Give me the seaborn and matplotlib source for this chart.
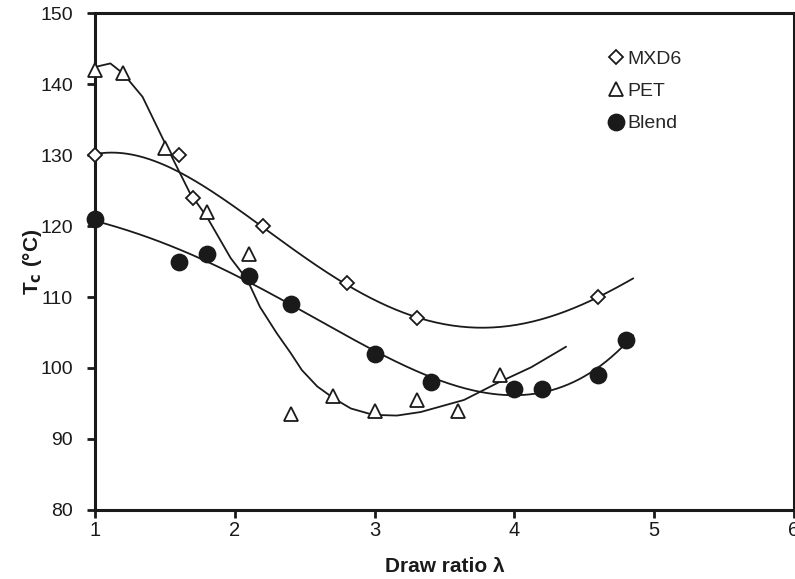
import numpy as np
import pandas as pd
import matplotlib
matplotlib.use("Agg")
import matplotlib.pyplot as plt
import seaborn as sns

# Data
mxd6_x = [1.0, 1.6, 1.7, 2.2, 2.8, 3.3, 4.6]
mxd6_y = [130, 130, 124, 120, 112, 107, 110]
pet_x = [1.0, 1.2, 1.5, 1.8, 2.1, 2.4, 2.7, 3.0, 3.3, 3.6, 3.9]
pet_y = [142, 141.5, 131, 122, 116, 93.5, 96, 94, 95.5, 94, 99]
blend_x = [1.0, 1.6, 1.8, 2.1, 2.4, 3.0, 3.4, 4.0, 4.2, 4.6, 4.8]
blend_y = [121, 115, 116, 113, 109, 102, 98, 97, 97, 99, 104]

# PET trend curve as drawn in the reference
pet_trend_x = [1.0, 1.11, 1.2, 1.34, 1.5, 1.68, 1.8, 1.97, 2.09, 2.18, 2.30,
               2.40, 2.48, 2.59, 2.71, 2.83, 2.99, 3.16, 3.33, 3.64, 3.88,
               4.12, 4.37]
pet_trend_y = [142.4, 142.9, 141.5, 138.2, 131.7, 124.6, 121.3, 115.5, 112.4,
               108.6, 104.9, 102.1, 99.7, 97.4, 95.7, 94.3, 93.4, 93.3, 93.8,
               95.5, 97.9, 100.1, 103.0]

x_ticks = [1, 2, 3, 4, 5, 6]
y_ticks = [80, 90, 100, 110, 120, 130, 140, 150]

INK = "#1a1a1a"

sns.set_theme(style="white")
plt.rcParams["font.family"] = ["Liberation Sans", "DejaVu Sans"]

fig = plt.figure(figsize=(7.95, 5.79), dpi=100)
ax = fig.add_axes([0.1195, 0.1192, 0.8792, 0.8583])

# Trend lines
for xs, ys, order, xend in [(mxd6_x, mxd6_y, 4, 4.85), (blend_x, blend_y, 4, 4.85)]:
    coef = np.polyfit(xs, ys, order)
    gx = np.linspace(min(xs), xend, 200)
    df_fit = pd.DataFrame({"x": gx, "y": np.polyval(coef, gx)})
    sns.lineplot(data=df_fit, x="x", y="y", ax=ax, color=INK, lw=1.3,
                 legend=False, zorder=2)
sns.lineplot(data=pd.DataFrame({"x": pet_trend_x, "y": pet_trend_y}), x="x", y="y",
             ax=ax, color=INK, lw=1.3, legend=False, zorder=2, sort=False)

series = [
    ("MXD6", mxd6_x, mxd6_y, "D", 7.5, "white"),
    ("PET", pet_x, pet_y, "^", 9.5, "white"),
    ("Blend", blend_x, blend_y, "o", 11.5, INK),
]
for name, xs, ys, mk, ms, fc in series:
    ax.plot(xs, ys, ls="none", marker=mk, ms=ms, mfc=fc, mec=INK,
            mew=1.3, label=name, zorder=3, clip_on=False)

ax.set_xlim(1, 6)
ax.set_ylim(80, 150)
ax.set_xticks(x_ticks)
ax.set_yticks(y_ticks)
ax.set_xticklabels([str(t) for t in x_ticks], fontsize=14.5)
ax.set_yticklabels([str(t) for t in y_ticks], fontsize=14)
for s in ax.spines.values():
    s.set_linewidth(2.2)
    s.set_color(INK)
ax.tick_params(axis="both", direction="out", length=6, width=2, color=INK,
               colors=INK, left=True, bottom=True)
ax.tick_params(axis="x", pad=2)
ax.tick_params(axis="y", pad=10)

ax.set_xlabel("Draw ratio λ", fontsize=15, fontweight="bold", color=INK, labelpad=12)
ax.set_ylabel(r"T$_\mathbf{c}$ (°C)", fontsize=15, fontweight="bold", color=INK, labelpad=-3)

leg = ax.legend(loc="upper right", bbox_to_anchor=(0.865, 0.96), frameon=False,
                fontsize=14, handletextpad=0.1, handlelength=1.0, labelspacing=0.75,
                markerscale=1.0)

fig.savefig("out.png", dpi=100)
